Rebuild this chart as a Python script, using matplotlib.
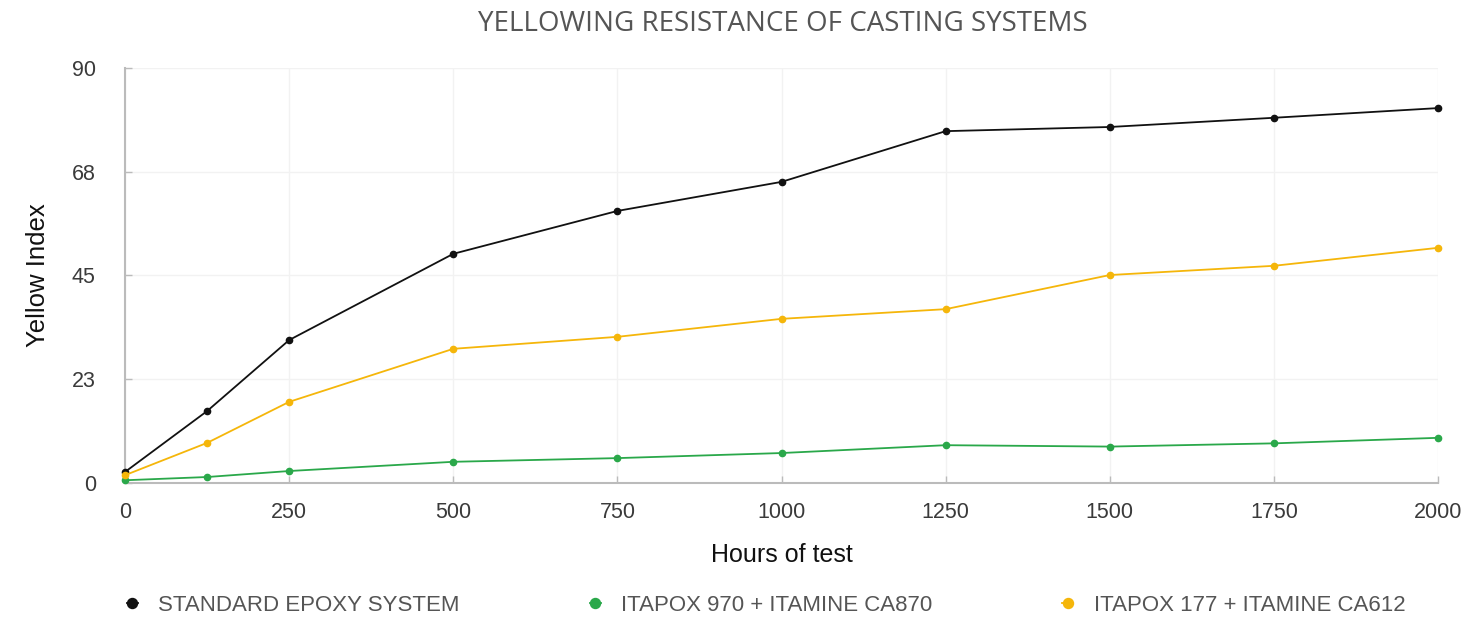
import matplotlib.pyplot as plt

# Data
hours = [0, 125, 250, 500, 750, 1000, 1250, 1500, 1750, 2000]
standard_epoxy = [2.4, 15.6, 31.0, 49.7, 59.0, 65.3, 76.3, 77.2, 79.2, 81.3]
itapox_970 = [0.6, 1.3, 2.6, 4.6, 5.4, 6.5, 8.2, 7.9, 8.6, 9.8]
itapox_177 = [1.7, 8.7, 17.6, 29.1, 31.7, 35.6, 37.7, 45.1, 47.1, 51.0]

series_names = ["STANDARD EPOXY SYSTEM", "ITAPOX 970 + ITAMINE CA870",
                "ITAPOX 177 + ITAMINE CA612"]
series_colors = ["#111111", "#2aa84a", "#f5b60a"]

x_ticks = [0, 250, 500, 750, 1000, 1250, 1500, 1750, 2000]
y_ticks = [0, 22.5, 45, 67.5, 90]
y_tick_labels = ["0", "23", "45", "68", "90"]

plt.rcParams['font.family'] = ['Liberation Sans', 'DejaVu Sans']

fig = plt.figure(figsize=(14.71, 6.23), dpi=100)
ax = fig.add_axes([0.085, 0.2247, 0.8926, 0.6662])

for vals, name, col in zip([standard_epoxy, itapox_970, itapox_177],
                           series_names, series_colors):
    ax.plot(hours, vals, color=col, linewidth=1.3, marker='o',
            markersize=4.5, label=name, clip_on=False, zorder=3)

ax.set_xlim(0, 2000)
ax.set_ylim(0, 90)
ax.set_xticks(x_ticks)
ax.set_yticks(y_ticks)
ax.set_yticklabels(y_tick_labels)
ax.tick_params(direction='in', length=5, width=1, color='#bbbbbb',
               labelsize=15.5, labelcolor='#3a3a3a')
ax.tick_params(axis='y', pad=21)
ax.tick_params(axis='x', pad=14)

for side in ['top', 'right']:
    ax.spines[side].set_visible(False)
for side in ['left', 'bottom']:
    ax.spines[side].set_color('#bbbbbb')
    ax.spines[side].set_linewidth(1.5)

ax.grid(True, color='#f2f2f2', linewidth=1)
ax.set_axisbelow(True)

ax.set_xlabel("Hours of test", fontsize=18, color='#111111', labelpad=14)
ax.set_ylabel("Yellow Index", fontsize=18.5, color='#111111', labelpad=16)

fig.text(0.532, 0.962, "YELLOWING RESISTANCE OF CASTING SYSTEMS",
         ha='center', va='center', fontsize=20, color='#555555',
         family=['Open Sans', 'DejaVu Sans'])

leg = fig.legend(loc='center left', bbox_to_anchor=(0.0724, 0.028), ncol=3,
                 frameon=False, fontsize=16, handlelength=0.5,
                 handletextpad=0.92, columnspacing=5.85, markerscale=1.6)
for t in leg.get_texts():
    t.set_color('#555555')

fig.savefig("out.png", dpi=100)
